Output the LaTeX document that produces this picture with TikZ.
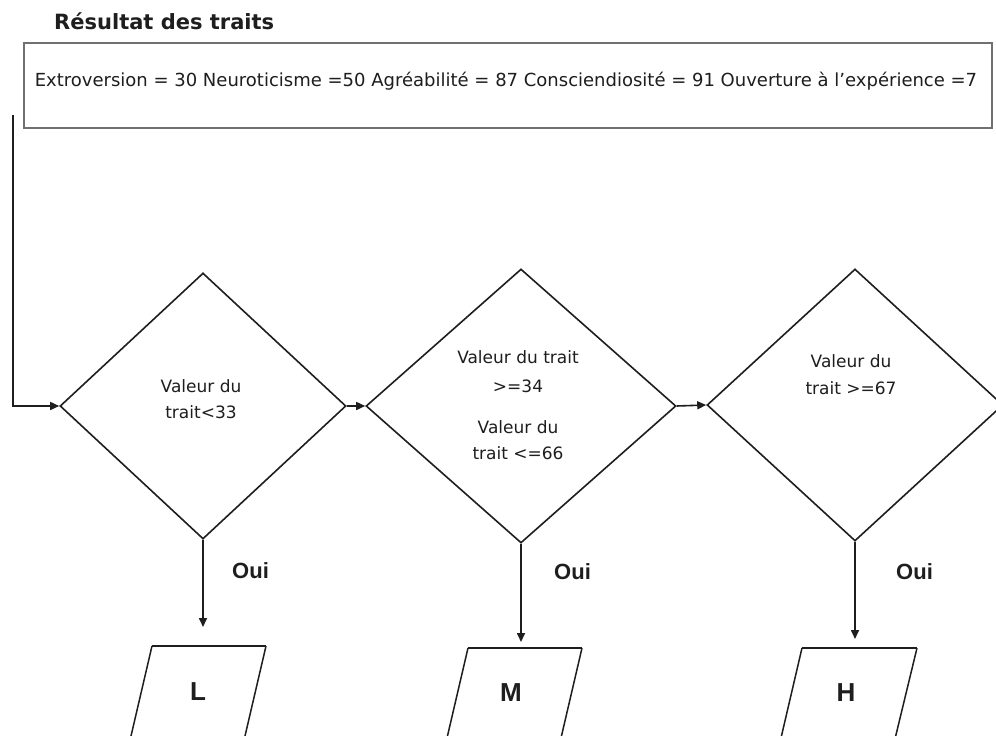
\documentclass[tikz,border=0pt]{standalone}
\usepackage{fontspec}
\setmainfont{DejaVu Sans}
\newfontfamily\arialfont{Liberation Sans}
\usetikzlibrary{shapes.geometric,arrows.meta}
\definecolor{ink}{HTML}{1E1E1E}
\definecolor{boxgray}{HTML}{707070}
\tikzset{
  conn/.style={draw=ink, line width=1.6pt, -{Triangle[length=9pt,width=8pt]}},
  decision/.style={diamond, draw=ink, line width=1.6pt, inner sep=0pt},
  dtext/.style={font=\fontsize{17}{20}\selectfont, anchor=base, text=ink, inner sep=0pt},
  ouitext/.style={font=\arialfont\bfseries\fontsize{22}{24}\selectfont, anchor=base west, text=ink, inner sep=0pt},
  lettertext/.style={font=\arialfont\bfseries\fontsize{26}{28}\selectfont, anchor=base, text=ink, inner sep=0pt},
  para/.style={draw=ink, line width=1.5pt},
  paratop/.style={draw=ink, line width=2.6pt},
}
\begin{document}
\begin{tikzpicture}[x=1pt,y=-1pt]
\useasboundingbox (0,0) rectangle (996,736);
\clip (0,0) rectangle (996,736);
\fill[white] (0,0) rectangle (996,736);

% title
\node[font=\bfseries\fontsize{21}{24}\selectfont, anchor=base west, inner sep=0pt, text=ink] (title) at (54,29) {Résultat des traits};

% result box
\node[draw=boxgray, line width=1.6pt, minimum width=968pt, minimum height=85pt, inner sep=0pt] (res) at (508,85.5) {};
\node[anchor=base, inner sep=0pt, text=ink, font=\fontsize{18}{20}\selectfont] (restxt) at (506,86) {Extroversion = 30 Neuroticisme =50 Agréabilité = 87 Consciendiosité = 91 Ouverture à l'expérience =7};

% decisions
\node[decision, minimum width=286pt, minimum height=266pt] (d1) at (203,406) {};
\node[decision, minimum width=310pt, minimum height=274pt] (d2) at (521,406) {};
\node[decision, minimum width=296pt, minimum height=272pt] (d3) at (855,405) {};

\node[dtext] (t1a) at (201,392) {Valeur du};
\node[dtext] (t1b) at (201,418) {trait<33};

\node[dtext] (t2a) at (518,363) {Valeur du trait};
\node[dtext] (t2b) at (518,392) {>=34};
\node[dtext] (t2c) at (518,433) {Valeur du};
\node[dtext] (t2d) at (518,459) {trait <=66};

\node[dtext] (t3a) at (851,367) {Valeur du};
\node[dtext] (t3b) at (851,394) {trait >=67};

% outputs (parallelograms)
\draw[para] (152,646) -- (125.4,760) -- (239.4,760) -- (266,646);
\draw[paratop] (152,646) -- (266,646);
\draw[para] (468,648) -- (441.4,762) -- (555.4,762) -- (582,648);
\draw[paratop] (468,648) -- (582,648);
\draw[para] (802,648) -- (775.4,762) -- (889.4,762) -- (917,648);
\draw[paratop] (802,648) -- (917,648);

\node[lettertext] (L) at (198,700) {L};
\node[lettertext] (M) at (511,701) {M};
\node[lettertext] (H) at (846,701) {H};

\node[ouitext] (o1) at (232,578) {Oui};
\node[ouitext] (o2) at (554,579) {Oui};
\node[ouitext] (o3) at (896,579) {Oui};

% connectors
\coordinate (start) at (13,115);
\coordinate (e1) at (203,627);
\coordinate (e2) at (521,642);
\coordinate (e3) at (855,639);
\draw[conn] (start) |- (d1.west);
\draw[conn] (d1.east) -- (d2.west);
\draw[conn] (d2.east) -- (d3.west);
\draw[conn] (d1.south) -- (e1);
\draw[conn] (d2.south) -- (e2);
\draw[conn] (d3.south) -- (e3);
\end{tikzpicture}
\end{document}
